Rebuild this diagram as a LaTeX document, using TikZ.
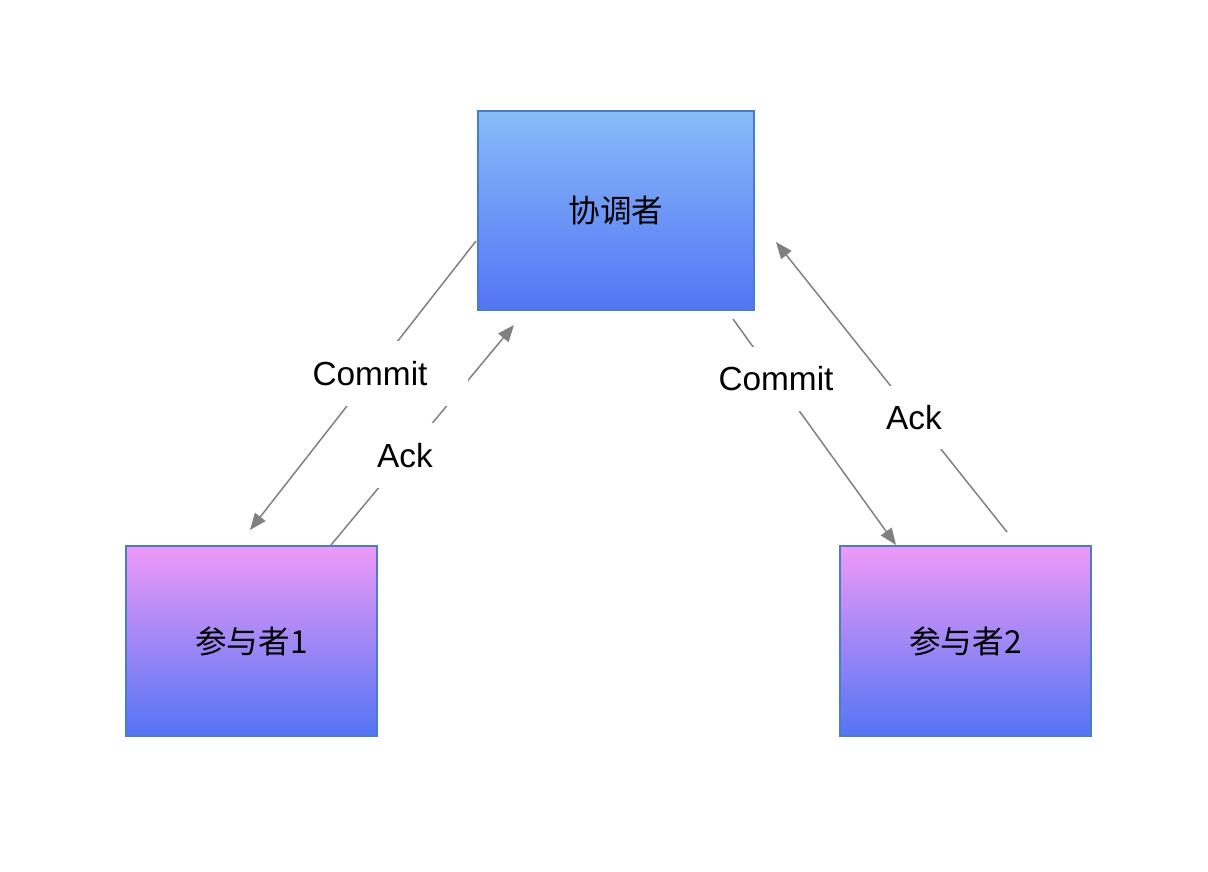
\documentclass[tikz,border=0pt]{standalone}
\usepackage{fontspec}
\setmainfont{Liberation Sans}
\newfontfamily\cjk{Noto Sans CJK SC}
\usetikzlibrary{arrows.meta}
\definecolor{coordtop}{HTML}{87BCF9}
\definecolor{parttop}{HTML}{EE9AF7}
\definecolor{boxbottom}{HTML}{5474F5}
\definecolor{boxline}{HTML}{4A7DC9}
\definecolor{msg}{HTML}{808080}

\begin{document}
\begin{tikzpicture}[x=0.02cm,y=-0.02cm,
  box/.style={draw=boxline,line width=0.85pt,inner sep=0pt,bottom color=boxbottom,font=\cjk\fontsize{18}{22}\selectfont},
  msgline/.style={msg,line width=0.85pt,-{Triangle[length=9.5pt,width=7.5pt]}},
  msglabel/.style={fill=white,inner sep=0pt,minimum height=1.3cm,font=\fontsize{19}{23}\selectfont}]
  \useasboundingbox (0,0) rectangle (1208,872);

  % boxes
  \node[box,top color=coordtop,minimum width=5.52cm,minimum height=3.98cm] (coord) at (616,210.5) {协调者};
  \node[box,top color=parttop,minimum width=5.02cm,minimum height=3.8cm] (part1) at (251.5,641) {参与者1};
  \node[box,top color=parttop,minimum width=5.02cm,minimum height=3.8cm] (part2) at (965.5,641) {参与者2};

  % ends of the messages
  \coordinate (commit1a) at (476,241);
  \coordinate (commit1b) at (250,530);
  \coordinate (ack1a) at (331,545);
  \coordinate (ack1b) at (514,325);
  \coordinate (commit2a) at (733,319);
  \coordinate (commit2b) at (896,545);
  \coordinate (ack2a) at (1007,532);
  \coordinate (ack2b) at (776,242);

  \draw[msgline] (commit1a) -- (commit1b);
  \draw[msgline] (ack1a) -- (ack1b);
  \draw[msgline] (commit2a) -- (commit2b);
  \draw[msgline] (ack2a) -- (ack2b);

  % labels
  \node[msglabel,minimum width=3.92cm] (commit1) at (370,373.5) {Commit};
  \node[msglabel,minimum width=1.6cm] (ack1) at (405,455.5) {Ack};
  \node[msglabel,minimum width=2.6cm,minimum height=1.28cm] (commit2) at (776,379) {Commit};
  \node[msglabel,minimum width=1.6cm,minimum height=1.26cm] (ack2) at (914,417.5) {Ack};
\end{tikzpicture}
\end{document}
